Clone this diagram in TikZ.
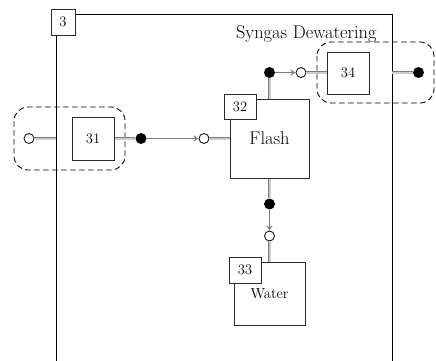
\documentclass[tikz,border=0pt]{standalone}
\usetikzlibrary{arrows.meta}
\definecolor{pipeout}{HTML}{7A7A7A}
\definecolor{pipein}{HTML}{CCCCCC}
\definecolor{boxline}{HTML}{2A2A2A}
\tikzset{
  pipe/.style={draw=pipeout, line width=0.8pt, double=pipein, double distance=2pt},
  flow/.style={draw=pipeout, line width=1pt, -{To[length=5pt,width=6pt]}},
  unitbox/.style={draw=boxline, line width=1pt, fill=white, rectangle, inner sep=0pt},
  tagbox/.style={draw=boxline, line width=1pt, fill=white, rectangle, inner sep=0pt,
    font=\fontsize{14.5}{16}\selectfont},
  opencirc/.style={draw=black, line width=0.8pt, fill=white, circle, inner sep=0pt, minimum size=10pt},
  blackdot/.style={fill=black, circle, inner sep=0pt, minimum size=11pt},
  groupbox/.style={draw=black, line width=0.9pt, dash pattern=on 5.5pt off 3.5pt, rounded corners=14pt},
  bigfont/.style={font=\fontsize{18.4}{21}\selectfont},
  smallfont/.style={font=\fontsize{14.5}{16}\selectfont},
}
\begin{document}
\begin{tikzpicture}[x=1pt,y=-1pt]
\useasboundingbox (0,0) rectangle (436,360);
\clip (0,0) rectangle (436,360);
% dashed groups
\draw[groupbox] (14,107) rectangle (125,170);
\draw[groupbox] (317,42) rectangle (434,103);
% system boundary
\draw[black, line width=1pt] (56,362) -- (56,14) -- (392,14) -- (392,362);
\node[bigfont, anchor=base east] (title) at (380,38.5) {Syngas Dewatering};
\node[tagbox, minimum width=24pt, minimum height=25.5pt] (t3) at (63,22.25) {3};
% units
\node[unitbox, minimum width=42pt, minimum height=43pt, smallfont] (b31) at (93,138.5) {31};
\node[unitbox, minimum width=42pt, minimum height=42pt, smallfont] (b34) at (348,73) {34};
\node[unitbox, minimum width=79pt, minimum height=79pt, bigfont] (flash) at (269.5,138.5) {Flash};
\node[tagbox, minimum width=32pt, minimum height=25pt] (t32) at (240,106.5) {32};
\node[unitbox, minimum width=71pt, minimum height=63pt, smallfont] (water) at (269.5,293.5) {Water};
\node[tagbox, minimum width=32pt, minimum height=26pt] (t33) at (245,270) {33};
% ports
\coordinate (bL) at (56,138.5);
\coordinate (bR) at (392,72.5);
\node[opencirc] (c1) at (29,138.5) {};
\node[blackdot] (d1) at (141,138.5) {};
\node[opencirc] (c2) at (204,138.5) {};
\node[blackdot] (d2) at (269.5,72.5) {};
\node[opencirc] (c3) at (301,72.5) {};
\node[blackdot] (d3) at (418.5,72.5) {};
\node[blackdot] (d4) at (269.5,204) {};
\node[opencirc] (c4) at (269.5,236) {};
% connectors
\draw[pipe] (c1) -- (bL);
\draw[pipe] (b31.east) -- (d1);
\draw[flow] (d1) -- (c2);
\draw[pipe] (c2) -- (c2 -| flash.west);
\draw[pipe] (d2) -- (d2 |- flash.north);
\draw[flow] (d2) -- (c3);
\draw[pipe] (c3) -- (c3 -| b34.west);
\draw[pipe] (bR) -- (d3);
\draw[pipe] (d4 |- flash.south) -- (d4);
\draw[flow] (d4) -- (c4);
\draw[pipe] (c4) -- (c4 |- water.north);
\end{tikzpicture}
\end{document}
